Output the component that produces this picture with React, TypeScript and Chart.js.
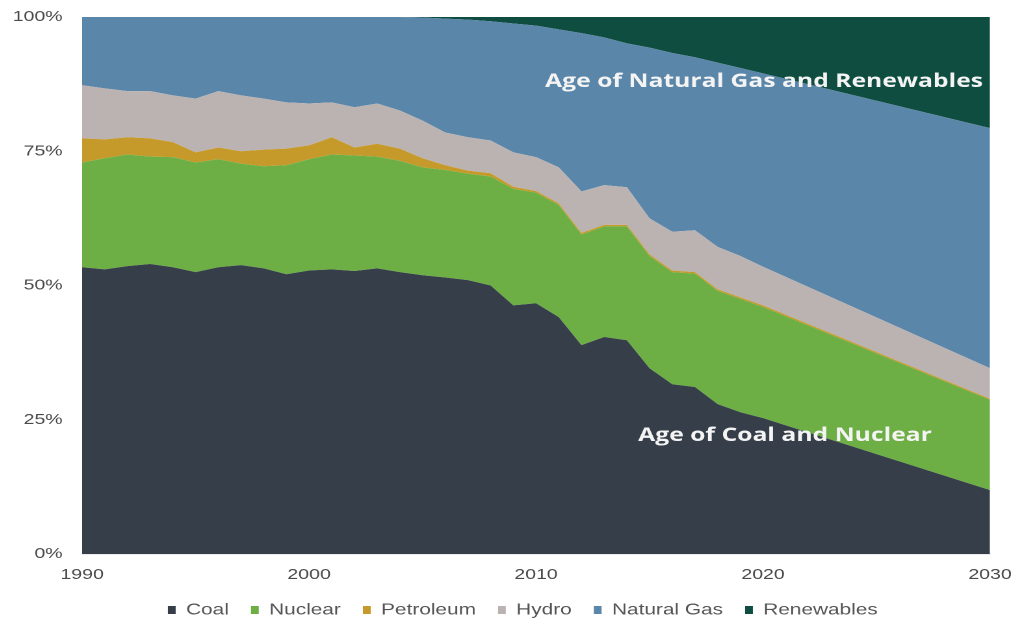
import React, { useEffect, useRef } from "react";
import { Chart, registerables } from "chart.js";

Chart.register(...registerables);

// Years (1990-2020 yearly, then 2030 projection)
const years = [
  1990, 1991, 1992, 1993, 1994, 1995, 1996, 1997, 1998, 1999,
  2000, 2001, 2002, 2003, 2004, 2005, 2006, 2007, 2008, 2009,
  2010, 2011, 2012, 2013, 2014, 2015, 2016, 2017, 2018, 2019,
  2020, 2030,
];

// Shares of generation (%)
const coal = [
  53.4, 53.0, 53.6, 54.0, 53.4, 52.5, 53.4, 53.8, 53.2, 52.1,
  52.8, 53.0, 52.7, 53.2, 52.5, 51.9, 51.5, 51.0, 50.0, 46.3,
  46.7, 44.1, 38.9, 40.4, 39.8, 34.6, 31.6, 31.1, 27.9, 26.4,
  25.3, 11.9,
];
const nuclear = [
  19.5, 20.7, 20.8, 20.0, 20.5, 20.4, 20.1, 18.9, 19.0, 20.3,
  20.7, 21.4, 21.5, 20.8, 20.7, 20.1, 20.0, 19.8, 20.3, 21.7,
  20.6, 20.9, 20.6, 20.6, 21.2, 20.9, 20.9, 21.1, 21.1, 21.1,
  20.7, 16.8,
];
const petroleum = [
  4.5, 3.5, 3.2, 3.4, 2.8, 1.9, 2.2, 2.3, 3.1, 3.1,
  2.6, 3.2, 1.5, 2.4, 2.3, 1.7, 0.9, 0.6, 0.6, 0.4,
  0.3, 0.3, 0.3, 0.3, 0.3, 0.3, 0.3, 0.3, 0.3, 0.3,
  0.3, 0.2,
];
const hydro = [
  9.9, 9.5, 8.6, 8.8, 8.7, 10.0, 10.5, 10.4, 9.5, 8.6,
  7.8, 6.5, 7.5, 7.5, 7.1, 7.0, 6.1, 6.2, 6.1, 6.4,
  6.3, 6.7, 7.7, 7.4, 7.0, 6.7, 7.2, 7.8, 7.9, 7.7,
  7.2, 5.7,
];
const naturalGas = [
  12.7, 13.3, 13.8, 13.8, 14.6, 15.2, 13.8, 14.6, 15.2, 15.9,
  16.1, 15.9, 16.8, 16.1, 17.4, 19.2, 21.2, 21.9, 22.2, 24.0,
  24.5, 25.7, 29.5, 27.5, 26.8, 31.8, 33.3, 32.2, 34.3, 35.0,
  36.0, 44.7,
];
const renewables = [
  0, 0, 0, 0, 0, 0, 0, 0, 0, 0,
  0, 0, 0, 0, 0, 0.1, 0.3, 0.5, 0.8, 1.2,
  1.6, 2.3, 3.0, 3.8, 4.9, 5.7, 6.7, 7.5, 8.5, 9.5,
  10.5, 20.7,
];

const seriesNames = ["Coal", "Nuclear", "Petroleum", "Hydro", "Natural Gas", "Renewables"];
const seriesColors = ["#363e49", "#6daf45", "#c59a2b", "#bab3b2", "#5a86a9", "#0e4d3f"];
const seriesValues = [coal, nuclear, petroleum, hydro, naturalGas, renewables];

const xTicks = [1990, 2000, 2010, 2020, 2030];
const yTicks = [0, 25, 50, 75, 100];

const annotations = [
  { text: "Age of Natural Gas and Renewables", x: 2010.4, y: 87.0 },
  { text: "Age of Coal and Nuclear", x: 2014.5, y: 21.0 },
];

const STRETCH = 1.3;
const CW = 792;
const CH = 635;

const annotationPlugin = {
  id: "ageAnnotations",
  afterDatasetsDraw(chart: any) {
    const { ctx, scales } = chart;
    ctx.save();
    ctx.font = "bold 19px 'Open Sans', 'DejaVu Sans', sans-serif";
    ctx.fillStyle = "#f4f4f4";
    ctx.textAlign = "left";
    ctx.textBaseline = "alphabetic";
    for (const a of annotations) {
      ctx.fillText(a.text, scales.x.getPixelForValue(a.x), scales.y.getPixelForValue(a.y));
    }
    ctx.restore();
  },
};

export default function App() {
  const canvasRef = useRef<HTMLCanvasElement | null>(null);

  useEffect(() => {
    if (!canvasRef.current) return;
    const datasets = seriesNames.map((name, i) => ({
      label: name,
      data: years.map((yr, j) => ({ x: yr, y: seriesValues[i][j] })),
      backgroundColor: seriesColors[i],
      borderColor: seriesColors[i],
      borderWidth: 0,
      pointRadius: 0,
      pointHoverRadius: 0,
      tension: 0,
      fill: i === 0 ? "origin" : "-1",
    }));

    const chart = new Chart(canvasRef.current, {
      type: "line",
      data: { datasets },
      plugins: [annotationPlugin],
      options: {
        animation: false,
        responsive: false,
        devicePixelRatio: 2,
        layout: { padding: { left: 0, top: 0, right: 0, bottom: 0 } },
        plugins: {
          tooltip: { enabled: false },
          legend: {
            position: "bottom",
            labels: {
              boxWidth: 6,
              boxHeight: 8,
              padding: 17,
              color: "#555555",
              font: { family: "'Liberation Sans', Arial, sans-serif", size: 16 },
            },
          },
        },
        scales: {
          x: {
            type: "linear",
            min: 1990,
            max: 2030,
            grid: { display: false, drawTicks: false },
            border: { display: true, color: "#d6d6d6", width: 1 },
            afterBuildTicks: (scale: any) => {
              scale.ticks = xTicks.map((v) => ({ value: v }));
            },
            afterFit: (scale: any) => {
              scale.height = 31;
            },
            ticks: {
              padding: 12,
              maxRotation: 0,
              autoSkip: false,
              color: "#4a4a4a",
              font: { family: "'Liberation Sans', Arial, sans-serif", size: 15 },
              callback: (v: any) => String(v),
            },
          },
          y: {
            stacked: true,
            min: 0,
            max: 100,
            grid: { display: false, drawTicks: false },
            border: { display: false },
            afterBuildTicks: (scale: any) => {
              scale.ticks = yTicks.map((v) => ({ value: v }));
            },
            afterFit: (scale: any) => {
              scale.width = 57;
            },
            ticks: {
              padding: 15,
              color: "#4a4a4a",
              font: { family: "'Liberation Sans', Arial, sans-serif", size: 15 },
              callback: (v: any) => v + "%",
            },
          },
          yRight: {
            position: "right",
            min: 0,
            max: 1,
            grid: { display: false, drawTicks: false },
            border: { display: false },
            ticks: { display: false },
            afterFit: (scale: any) => {
              scale.width = 36.6;
            },
          },
        },
      },
    });
    return () => chart.destroy();
  }, []);

  return (
    <div
      style={{
        position: "fixed",
        left: 0,
        top: 0,
        width: 1016,
        height: 625,
        overflow: "hidden",
        background: "#ffffff",
      }}
    >
      <div
        style={{
          position: "absolute",
          left: 8,
          top: -7,
          width: CW,
          height: CH,
          transform: `scaleX(${STRETCH})`,
          transformOrigin: "0 0",
        }}
      >
        <canvas ref={canvasRef} width={CW} height={CH} style={{ display: "block" }} />
      </div>
    </div>
  );
}
